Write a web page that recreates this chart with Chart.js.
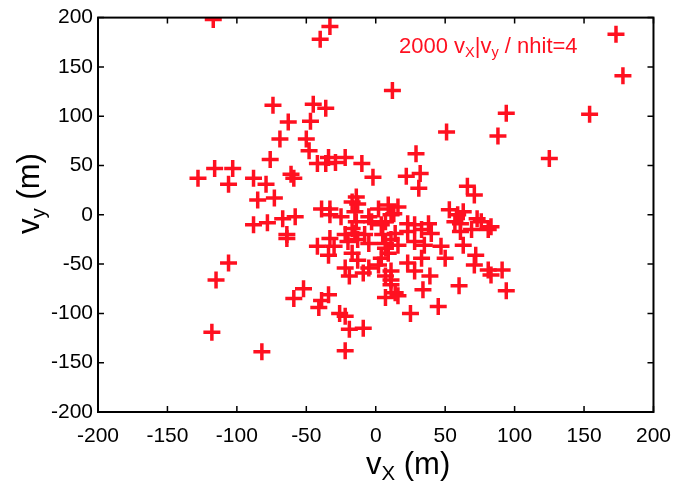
<!DOCTYPE html>
<html>
<head>
<meta charset="utf-8">
<script src="https://cdn.jsdelivr.net/npm/chart.js@4.4.1/dist/chart.umd.min.js"></script>
<style>
  html, body { margin: 0; padding: 0; background: #fff; }
  #wrap { width: 683px; height: 486px; }
</style>
</head>
<body>
<div id="wrap"><canvas id="scatter"></canvas></div>
<script>
// hit positions (m)
const vx = [-117, -33, -40, 173, 178, 12, 94, 154, 51, 88, 125, 29, 22, 32, 31, 66, 71, -2,
  -74, -45, -36, -63, -47, -69, -50, -48, -76, -42, -34, -36, -29, -22, -10,
  -128, -116, -103, -106, -88, -79, -61, -59, -85, -73, -88, -78, -67, -58, -64, -64,
  -106, -115, -118, -82,
  -14, -17, -13, -39, -33, -33, -25, -15, -14, -17, 2, 9, 11, -5, -3, 4, 16, 13, 7,
  53, 59, 63, 57, 61, 69, 73, 76, 83, 23, 28, 38, 61, 81,
  -42, -33, -30, -34, -22, -20, -15, -13, -8, -5, -17, -13, -22, -19, -9, -5, 2,
  7, 9, 7, 11, 7, 14, 5, 11, 16, 7, 4, 14, 23, 33, 40, 28, 35, 47, 63, 50, 33, 23,
  72, 71, 81, 83, 91, 94, 60, 39, 28, 34, 16, 11, 45, 25,
  -52, -59, -41, -39, -34, -26, -22, -19, -9, -22, 11];
const vy = [198, 191, 178, 183, 141, 126, 103, 102, 84, 80, 57, 62, 39, 42, 27, 29, 20, 38,
  111, 112, 108, 94, 95, 77, 77, 65, 56, 52, 58, 52, 53, 58, 52,
  37, 47, 47, 31, 37, 31, 41, 37, 15, 17, -10, -8, -4, -2, -24, -20,
  -49, -66, -119, -139,
  18, 13, 11, 6, 6, 0, -2, 3, -7, -14, 6, 10, 0, -2, -7, -10, 8, 1, -7,
  5, 0, 3, -7, -9, -15, -4, -7, -12, -9, -10, -9, -17, -15,
  -32, -24, -32, -41, -20, -27, -19, -25, -20, -29, -39, -46, -54, -62, -59, -54, -51,
  -29, -39, -62, -71, -84, -79, -20, -25, -31, -34, -44, -19, -17, -15, -19, -27, -31, -32, -31, -44, -44, -49,
  -41, -51, -56, -61, -56, -77, -72, -62, -57, -76, -82, -66, -93, -100,
  -75, -85, -94, -87, -81, -100, -103, -116, -115, -138, -57];
const tickValues = [-200, -150, -100, -50, 0, 50, 100, 150, 200];

const red = 'rgb(255, 16, 32)';
const fontFamily = "'Liberation Sans', Arial, Helvetica, sans-serif";

const points = vx.map((x, i) => ({ x: x, y: vy[i] }));

// text with subscripts, parts = [[text, isSub], ...]
function drawRich(ctx, parts, x, y, size) {
  let cx = x;
  parts.forEach(p => {
    const s = p[1] ? size * 0.66 : size;
    ctx.font = s + 'px ' + fontFamily;
    ctx.fillText(p[0], cx, p[1] ? y + size * 0.2 : y);
    cx += ctx.measureText(p[0]).width;
  });
}

const framePlugin = {
  id: 'frame',
  afterDraw(chart) {
    const ctx = chart.ctx;
    const a = chart.chartArea;
    const xs = chart.scales.x, ys = chart.scales.y;
    ctx.save();
    ctx.strokeStyle = '#000';
    ctx.lineWidth = 2;
    ctx.strokeRect(a.left, a.top, a.right - a.left, a.bottom - a.top);
    ctx.lineWidth = 1.5;
    ctx.beginPath();
    xs.ticks.forEach(t => {
      const px = xs.getPixelForValue(t.value);
      ctx.moveTo(px, a.bottom); ctx.lineTo(px, a.bottom - 6);
      ctx.moveTo(px, a.top); ctx.lineTo(px, a.top + 6);
    });
    ys.ticks.forEach(t => {
      const py = ys.getPixelForValue(t.value);
      ctx.moveTo(a.left, py); ctx.lineTo(a.left + 6, py);
      ctx.moveTo(a.right, py); ctx.lineTo(a.right - 6, py);
    });
    ctx.stroke();

    // axis titles
    ctx.fillStyle = '#000';
    ctx.textBaseline = 'alphabetic';
    ctx.textAlign = 'left';
    drawRich(ctx, [['v', false], ['X', true], [' (m)', false]], 366, 474, 31);
    ctx.save();
    ctx.translate(39, 234);
    ctx.rotate(-Math.PI / 2);
    drawRich(ctx, [['v', false], ['y', true], [' (m)', false]], 0, 0, 31);
    ctx.restore();

    // annotation
    ctx.fillStyle = red;
    drawRich(ctx, [['2000 v', false], ['X', true], ['|v', false], ['y', true], [' / nhit=4', false]], 399, 53, 22);
    ctx.restore();
  }
};

new Chart(document.getElementById('scatter'), {
  type: 'scatter',
  data: {
    datasets: [{
      data: points,
      pointStyle: 'cross',
      pointRadius: 8.5,
      pointHoverRadius: 8.5,
      borderColor: red,
      backgroundColor: red,
      pointBorderWidth: 3.5
    }]
  },
  options: {
    responsive: true,
    maintainAspectRatio: false,
    animation: false,
    layout: { padding: { left: 0, top: 14, right: 26, bottom: 0 } },
    plugins: {
      legend: { display: false },
      tooltip: { enabled: false }
    },
    scales: {
      x: {
        type: 'linear',
        min: -200, max: 200,
        afterBuildTicks: s => { s.ticks = tickValues.map(v => ({ value: v })); },
        afterFit: s => { s.height = 74; },
        grid: { display: false, drawTicks: false },
        border: { display: false },
        ticks: { color: '#000', padding: 12, maxRotation: 0, autoSkip: false,
                 font: { family: fontFamily, size: 21 } }
      },
      y: {
        type: 'linear',
        min: -200, max: 200,
        afterBuildTicks: s => { s.ticks = tickValues.map(v => ({ value: v })); },
        afterFit: s => { s.width = 98; },
        grid: { display: false, drawTicks: false },
        border: { display: false },
        ticks: { color: '#000', padding: 5, autoSkip: false,
                 font: { family: fontFamily, size: 21 } }
      }
    }
  },
  plugins: [framePlugin]
});
</script>
</body>
</html>
